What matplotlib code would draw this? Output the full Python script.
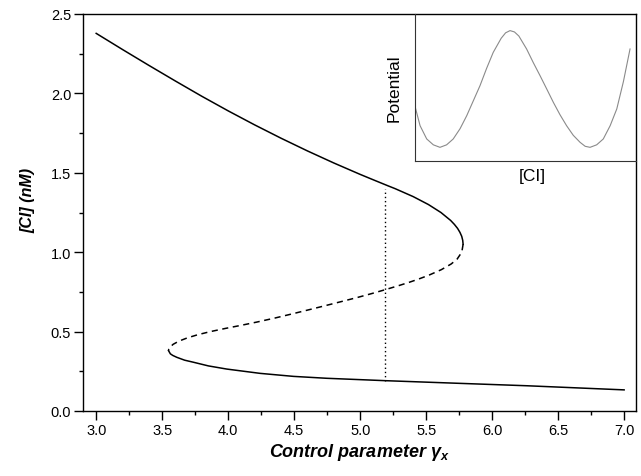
import matplotlib
matplotlib.use("Agg")
import matplotlib.pyplot as plt
from matplotlib.ticker import MultipleLocator, FormatStrFormatter

plt.rcParams['font.family'] = ['Liberation Sans', 'DejaVu Sans']
plt.rcParams['mathtext.fontset'] = 'custom'
plt.rcParams['mathtext.it'] = 'Liberation Sans:bold:italic'
plt.rcParams['mathtext.rm'] = 'Liberation Sans:bold:italic'
plt.rcParams['mathtext.bf'] = 'Liberation Sans:bold:italic'

# Upper stable branch (solid)
upper_x = [3.00, 3.20, 3.40, 3.60, 3.80, 4.00, 4.20, 4.40, 4.60, 4.80, 5.00, 5.105, 5.211, 5.2655, 5.402,
           5.5175, 5.612, 5.6855, 5.714, 5.738, 5.756, 5.7695, 5.777, 5.78]
upper_y = [2.378, 2.276, 2.176, 2.078, 1.982, 1.890, 1.802, 1.718, 1.638, 1.562, 1.490, 1.454, 1.418, 1.40, 1.35,
           1.30, 1.25, 1.20, 1.175, 1.15, 1.125, 1.10, 1.075, 1.05]

# Unstable middle branch (dashed)
middle_x = [5.78, 5.77, 5.735, 5.69, 5.615, 5.52, 5.44, 5.37, 5.29, 5.19, 5.09, 4.984, 4.862, 4.734, 4.609,
            4.482, 4.352, 4.217, 4.101, 3.979, 3.865, 3.768, 3.689, 3.627, 3.583, 3.557, 3.550, 3.548]
middle_y = [1.05, 1.00, 0.957, 0.926, 0.89, 0.855, 0.83, 0.81, 0.789, 0.764, 0.74, 0.716, 0.69, 0.663, 0.637,
            0.611, 0.585, 0.56, 0.54, 0.52, 0.50, 0.48, 0.46, 0.44, 0.42, 0.40, 0.39, 0.38]

# Lower stable branch (solid)
lower_x = [3.548, 3.562, 3.58, 3.611, 3.67, 3.737, 3.85, 3.990, 4.242, 4.495, 4.747, 5.19, 5.758, 6.263, 7.00]
lower_y = [0.380, 0.36, 0.35, 0.338, 0.32, 0.307, 0.284, 0.264, 0.237, 0.218, 0.206, 0.191, 0.174, 0.159, 0.133]

# Vertical dotted marker
marker_x = [5.19, 5.19]
marker_y = [0.191, 1.40]

# Inset: double-well potential (arbitrary units)
pot_u = [0.0, 0.023, 0.053, 0.083, 0.113, 0.143, 0.173, 0.204, 0.234, 0.264, 0.294, 0.324, 0.354, 0.39, 0.41, 0.43,
         0.45, 0.47, 0.505, 0.535, 0.566, 0.596, 0.626, 0.656, 0.686, 0.716, 0.747, 0.77, 0.792, 0.822, 0.852, 0.883,
         0.913, 0.943, 0.973]
pot_v = [0.372, 0.240, 0.150, 0.11, 0.093, 0.11, 0.150, 0.22, 0.308, 0.41, 0.512, 0.63, 0.739, 0.835, 0.872, 0.887,
         0.878, 0.85, 0.762, 0.67, 0.580, 0.49, 0.399, 0.315, 0.240, 0.175, 0.127, 0.10, 0.093, 0.11, 0.150, 0.24,
         0.354, 0.54, 0.762]

fig = plt.figure(figsize=(6.41, 4.77), dpi=100)
ax = fig.add_axes([83/641, 65/477, 553/641, 397/477])

ax.plot(upper_x, upper_y, color='black', lw=1.1)
ax.plot(middle_x, middle_y, color='black', lw=1.1, dashes=(4, 3))
ax.plot(lower_x, lower_y, color='black', lw=1.1)
ax.plot(marker_x, marker_y, color='black', lw=1.0, dashes=(1, 2))

ax.set_xlim(2.9, 7.09)
ax.set_ylim(0.0, 2.5)
ax.xaxis.set_major_locator(MultipleLocator(0.5))
ax.xaxis.set_minor_locator(MultipleLocator(0.25))
ax.yaxis.set_major_locator(MultipleLocator(0.5))
ax.yaxis.set_minor_locator(MultipleLocator(0.25))
ax.xaxis.set_major_formatter(FormatStrFormatter('%.1f'))
ax.yaxis.set_major_formatter(FormatStrFormatter('%.1f'))
ax.tick_params(which='major', direction='out', length=6.5, width=1.0, labelsize=10.5, pad=2)
ax.tick_params(which='minor', direction='out', length=3, width=1.0)
ax.tick_params(top=False, right=False, which='both')
for s in ax.spines.values():
    s.set_linewidth(1.0)

ax.set_xlabel(r'Control parameter $\gamma_x$', fontsize=13, fontweight='bold', fontstyle='italic', labelpad=3)
ax.set_ylabel('[CI] (nM)', fontsize=11.5, fontweight='bold', fontstyle='italic')
ax.yaxis.set_label_coords(-0.086, 0.534)

# Inset
ins = fig.add_axes([415/641, 315/477, 221/641, 147/477])
ins.plot(pot_u, pot_v, color='#8a8a8a', lw=0.8)
ins.set_xlim(0, 1)
ins.set_ylim(0, 1)
ins.set_xticks([])
ins.set_yticks([])
ins.spines['top'].set_visible(False)
ins.spines['right'].set_visible(False)
ins.spines['left'].set_color('#333333')
ins.spines['bottom'].set_color('#333333')
ins.set_xlabel('[CI]', fontsize=12.5)
ins.xaxis.set_label_coords(0.53, -0.047)
ins.set_ylabel('Potential', fontsize=12.5)
ins.yaxis.set_label_coords(-0.059, 0.5)
ins.patch.set_alpha(0)

fig.savefig('out.png', dpi=100)
